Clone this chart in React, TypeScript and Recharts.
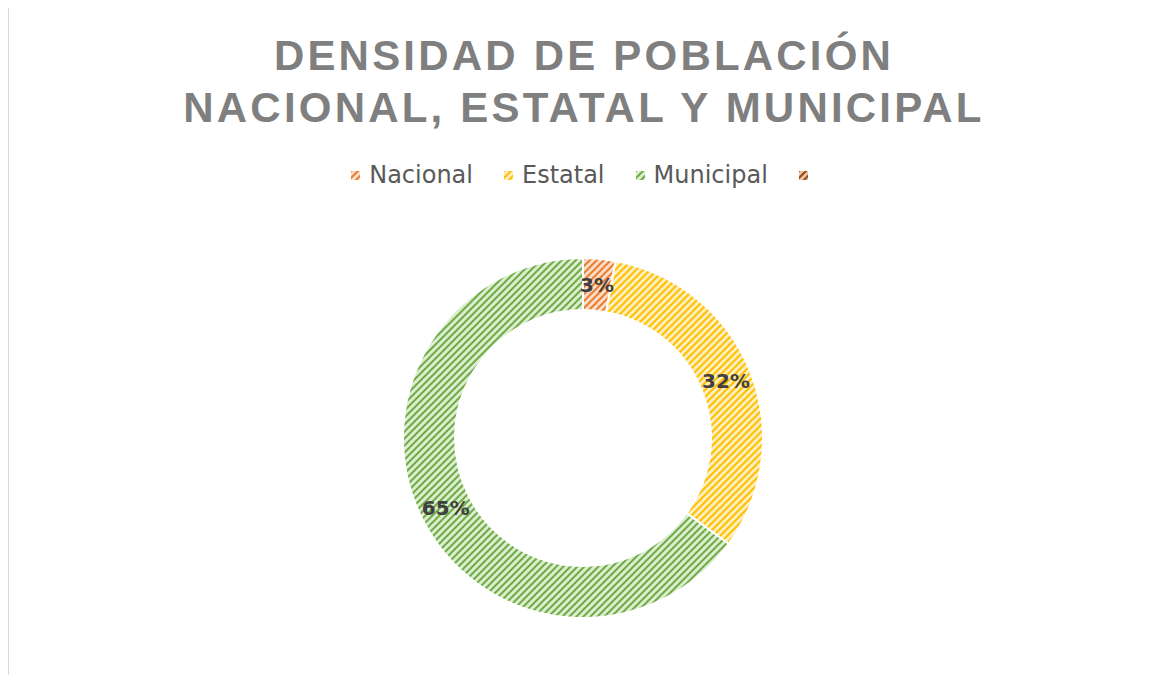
import React from 'react'
import { PieChart, Pie, Cell, Legend } from 'recharts'

const categories = ['Nacional', 'Estatal', 'Municipal', '']
const values = [2.9, 32.1, 65.0, 0]
const stripeColors = ['#ED7D31', '#FFC000', '#70AD47', '#9E480E']
const lightColors = ['#FBDDC8', '#FFEFC0', '#DCEDD0', '#E6C4AE']

const titleLines = ['DENSIDAD DE POBLACIÓN', 'NACIONAL, ESTATAL Y MUNICIPAL']

const data = categories
  .map((name, i) => ({ name, value: values[i], idx: i }))
  .filter((d) => d.value > 0)

const RADIAN = Math.PI / 180

type LabelProps = {
  cx: number;
  cy: number;
  midAngle: number;
  innerRadius: number;
  outerRadius: number;
  percent: number;
}

const renderLabel = ({ cx, cy, midAngle, innerRadius, outerRadius, percent }: LabelProps) => {
  const r = (innerRadius + outerRadius) / 2
  const x = cx + r * Math.cos(-midAngle * RADIAN)
  const y = cy + r * Math.sin(-midAngle * RADIAN)
  return (
    <text
      x={x}
      y={y}
      textAnchor="middle"
      dominantBaseline="central"
      fill="#404040"
      fontFamily="'DejaVu Sans', sans-serif"
      fontWeight="bold"
      fontSize={20}
    >
      {`${Math.round(percent * 100)}%`}
    </text>
  )
}

const renderLegend = () => (
  <div
    style={{
      display: 'flex',
      justifyContent: 'center',
      alignItems: 'center',
      fontFamily: "'DejaVu Sans', sans-serif",
      fontSize: 24,
      color: '#595959',
    }}
  >
    {categories.map((name, i) => (
      <div
        key={`lg-${i}`}
        style={{ display: 'flex', alignItems: 'center', marginRight: i < categories.length - 1 ? 31 : 0 }}
      >
        <svg width={9} height={9} style={{ marginRight: 9 }}>
          <rect width={9} height={9} fill={`url(#pat-${i})`} />
        </svg>
        <span>{name}</span>
      </div>
    ))}
  </div>
)

export default function App() {
  return (
    <div
      style={{
        position: 'relative',
        width: 1160,
        height: 680,
        margin: '-1px 0 0 -1px',
        borderTop: '1px solid #d9d9d9',
        borderLeft: '2px solid #d9d9d9',
        background: '#fff',
      }}
    >
      <div
        style={{
          position: 'absolute',
          top: 22,
          left: 0,
          width: 1150,
          textAlign: 'center',
          fontFamily: "'Liberation Sans', Arial, sans-serif",
          fontWeight: 'bold',
          fontSize: 42,
          lineHeight: '52px',
          letterSpacing: 3.2,
          color: '#7f7f7f',
        }}
      >
        {titleLines.map((t) => (
          <div key={t}>{t}</div>
        ))}
      </div>
      <PieChart width={1140} height={660}>
        <defs>
          {stripeColors.map((c, i) => (
            <pattern key={`p-${i}`} id={`pat-${i}`} patternUnits="userSpaceOnUse" width={7} height={7}>
              <rect width={7} height={7} fill={lightColors[i]} />
              <path d="M-1,1 L1,-1 M0,7 L7,0 M6,8 L8,6" stroke={c} strokeWidth={2} />
            </pattern>
          ))}
        </defs>
        <Legend
          layout="horizontal"
          verticalAlign="middle"
          align="center"
          content={renderLegend}
          wrapperStyle={{ top: 153, left: 0, width: 1150 }}
        />
        <Pie
          data={data}
          dataKey="value"
          nameKey="name"
          cx={569}
          cy={425}
          innerRadius={128}
          outerRadius={180}
          startAngle={90}
          endAngle={-270}
          stroke="#ffffff"
          strokeWidth={2}
          label={renderLabel}
          labelLine={false}
          isAnimationActive={false}
        >
          {data.map((d) => (
            <Cell key={`cell-${d.name}`} fill={`url(#pat-${d.idx})`} />
          ))}
        </Pie>
      </PieChart>
    </div>
  )
}
